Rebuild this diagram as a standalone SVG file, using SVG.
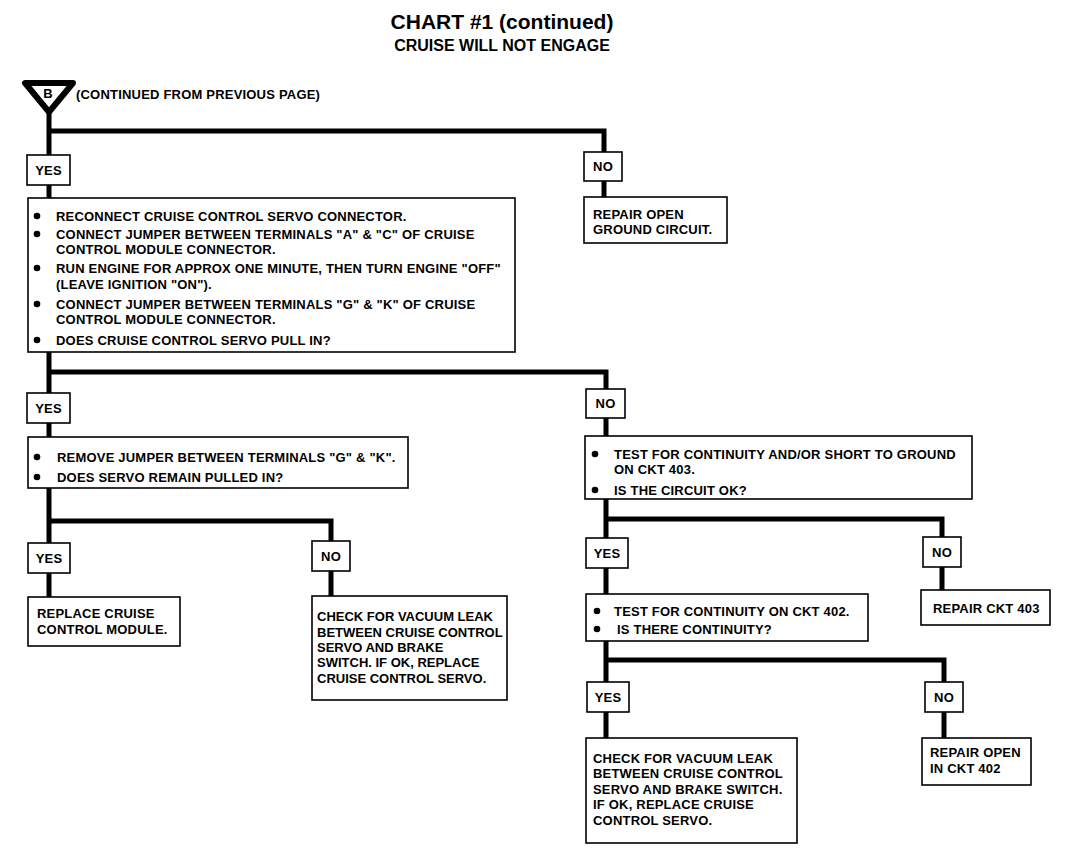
<svg xmlns="http://www.w3.org/2000/svg" width="1088" height="860" viewBox="0 0 1088 860">
<style>
.t{font-family:"Liberation Sans",Arial,sans-serif;font-weight:bold;font-size:13px;letter-spacing:0.2px;fill:#000}
.n{letter-spacing:0}
.c{text-anchor:middle}
.bx{fill:#fff;stroke:#000;stroke-width:1.6}
.ln{fill:none;stroke:#000;stroke-width:5}
.title{font-family:"Liberation Sans",Arial,sans-serif;font-weight:bold;fill:#000;text-anchor:middle}
</style>
<rect width="1088" height="860" fill="#fff"/>
<text class="title" x="502" y="29" font-size="21">CHART #1 (continued)</text>
<text class="title" x="502" y="51" font-size="16">CRUISE WILL NOT ENGAGE</text>

<g id="connectors">
<path class="ln" d="M49,110 V155 M49,185 V198 M49,131 H604 V152 M604,181 V197"/>
<path class="ln" d="M49,352 V393 M49,372 H606 V389 M49,423 V437 M606,418 V436"/>
<path class="ln" d="M49,488 V543 M49,521 H331 V541 M49,573 V597 M331,571 V596"/>
<path class="ln" d="M606,499 V538 M606,519 H942 V537 M606,568 V594 M942,567 V590"/>
<path class="ln" d="M606,641 V682 M606,660 H944 V682 M606,712 V738 M944,712 V738"/>
</g>

<g id="start">
<polygon points="25,83 73,83 49,112" fill="#fff" stroke="#000" stroke-width="6" stroke-linejoin="round"/>
<text class="t c" x="48" y="98" font-size="11">B</text>
<text class="t" x="76" y="99">(CONTINUED FROM PREVIOUS PAGE)</text>
</g>

<g id="yes1"><rect class="bx" x="27" y="155" width="43" height="30"/><text class="t c" x="48.5" y="175">YES</text></g>
<g id="no1"><rect class="bx" x="584" y="152" width="38" height="29"/><text class="t c" x="603" y="171">NO</text></g>
<g id="repairGround"><rect class="bx" x="584" y="197" width="143" height="46"/>
<text class="t" x="593" y="219">REPAIR OPEN</text><text class="t" x="593" y="234">GROUND CIRCUIT.</text></g>

<g id="step1"><rect class="bx" x="28" y="198" width="487" height="154"/>
<circle cx="37" cy="216" r="3.3"/><text class="t" x="56" y="221">RECONNECT CRUISE CONTROL SERVO CONNECTOR.</text>
<circle cx="37" cy="234" r="3.3"/><text class="t" x="56" y="239">CONNECT JUMPER BETWEEN TERMINALS "A" &amp; "C" OF CRUISE</text>
<text class="t" x="56" y="254">CONTROL MODULE CONNECTOR.</text>
<circle cx="37" cy="268" r="3.3"/><text class="t" x="56" y="273">RUN ENGINE FOR APPROX ONE MINUTE, THEN TURN ENGINE "OFF"</text>
<text class="t" x="56" y="289">(LEAVE IGNITION "ON").</text>
<circle cx="37" cy="304" r="3.3"/><text class="t" x="56" y="309">CONNECT JUMPER BETWEEN TERMINALS "G" &amp; "K" OF CRUISE</text>
<text class="t" x="56" y="324">CONTROL MODULE CONNECTOR.</text>
<circle cx="37" cy="340" r="3.3"/><text class="t" x="56" y="345">DOES CRUISE CONTROL SERVO PULL IN?</text>
</g>

<g id="yes2"><rect class="bx" x="27" y="393" width="43" height="30"/><text class="t c" x="48.5" y="413">YES</text></g>
<g id="no2"><rect class="bx" x="586" y="389" width="39" height="29"/><text class="t c" x="605.5" y="408">NO</text></g>

<g id="step2"><rect class="bx" x="28" y="437" width="380" height="51"/>
<circle cx="37" cy="457" r="3.3"/><text class="t" x="57" y="462">REMOVE JUMPER BETWEEN TERMINALS "G" &amp; "K".</text>
<circle cx="37" cy="477" r="3.3"/><text class="t" x="57" y="482">DOES SERVO REMAIN PULLED IN?</text>
</g>

<g id="step3"><rect class="bx" x="585" y="436" width="387" height="63"/>
<circle cx="595" cy="454" r="3.3"/><text class="t" x="614" y="459">TEST FOR CONTINUITY AND/OR SHORT TO GROUND</text>
<text class="t" x="614" y="474">ON CKT 403.</text>
<circle cx="595" cy="490" r="3.3"/><text class="t" x="614" y="495">IS THE CIRCUIT OK?</text>
</g>

<g id="yes3"><rect class="bx" x="28" y="543" width="42" height="30"/><text class="t c" x="49" y="563">YES</text></g>
<g id="no3"><rect class="bx" x="312" y="541" width="38" height="30"/><text class="t c" x="331" y="561">NO</text></g>
<g id="replaceModule"><rect class="bx" x="28" y="597" width="152" height="49"/>
<text class="t" x="37" y="618">REPLACE CRUISE</text><text class="t" x="37" y="634">CONTROL MODULE.</text></g>
<g id="checkLeak1"><rect class="bx" x="312" y="596" width="195" height="104"/>
<text class="t n" x="317" y="621">CHECK FOR VACUUM LEAK</text>
<text class="t n" x="317" y="637">BETWEEN CRUISE CONTROL</text>
<text class="t n" x="317" y="652">SERVO AND BRAKE</text>
<text class="t n" x="317" y="667">SWITCH. IF OK, REPLACE</text>
<text class="t n" x="317" y="683">CRUISE CONTROL SERVO.</text></g>

<g id="yes4"><rect class="bx" x="586" y="538" width="42" height="30"/><text class="t c" x="607" y="558">YES</text></g>
<g id="no4"><rect class="bx" x="923" y="537" width="38" height="30"/><text class="t c" x="942" y="557">NO</text></g>
<g id="repair403"><rect class="bx" x="921" y="590" width="129" height="35"/><text class="t" x="933" y="613">REPAIR CKT 403</text></g>
<g id="step4"><rect class="bx" x="586" y="594" width="282" height="47"/>
<circle cx="597" cy="611" r="3.3"/><text class="t" x="614" y="616">TEST FOR CONTINUITY ON CKT 402.</text>
<circle cx="597" cy="629" r="3.3"/><text class="t" x="617" y="634">IS THERE CONTINUITY?</text>
</g>

<g id="yes5"><rect class="bx" x="587" y="682" width="42" height="30"/><text class="t c" x="608" y="702">YES</text></g>
<g id="no5"><rect class="bx" x="925" y="682" width="38" height="30"/><text class="t c" x="944" y="702">NO</text></g>
<g id="checkLeak2"><rect class="bx" x="586" y="738" width="211" height="105"/>
<text class="t" x="593" y="763">CHECK FOR VACUUM LEAK</text>
<text class="t" x="593" y="778">BETWEEN CRUISE CONTROL</text>
<text class="t" x="593" y="794">SERVO AND BRAKE SWITCH.</text>
<text class="t" x="593" y="809">IF OK, REPLACE CRUISE</text>
<text class="t" x="593" y="825">CONTROL SERVO.</text></g>
<g id="repair402"><rect class="bx" x="922" y="738" width="109" height="47"/>
<text class="t" x="930" y="757">REPAIR OPEN</text><text class="t" x="930" y="773">IN CKT 402</text></g>
</svg>
